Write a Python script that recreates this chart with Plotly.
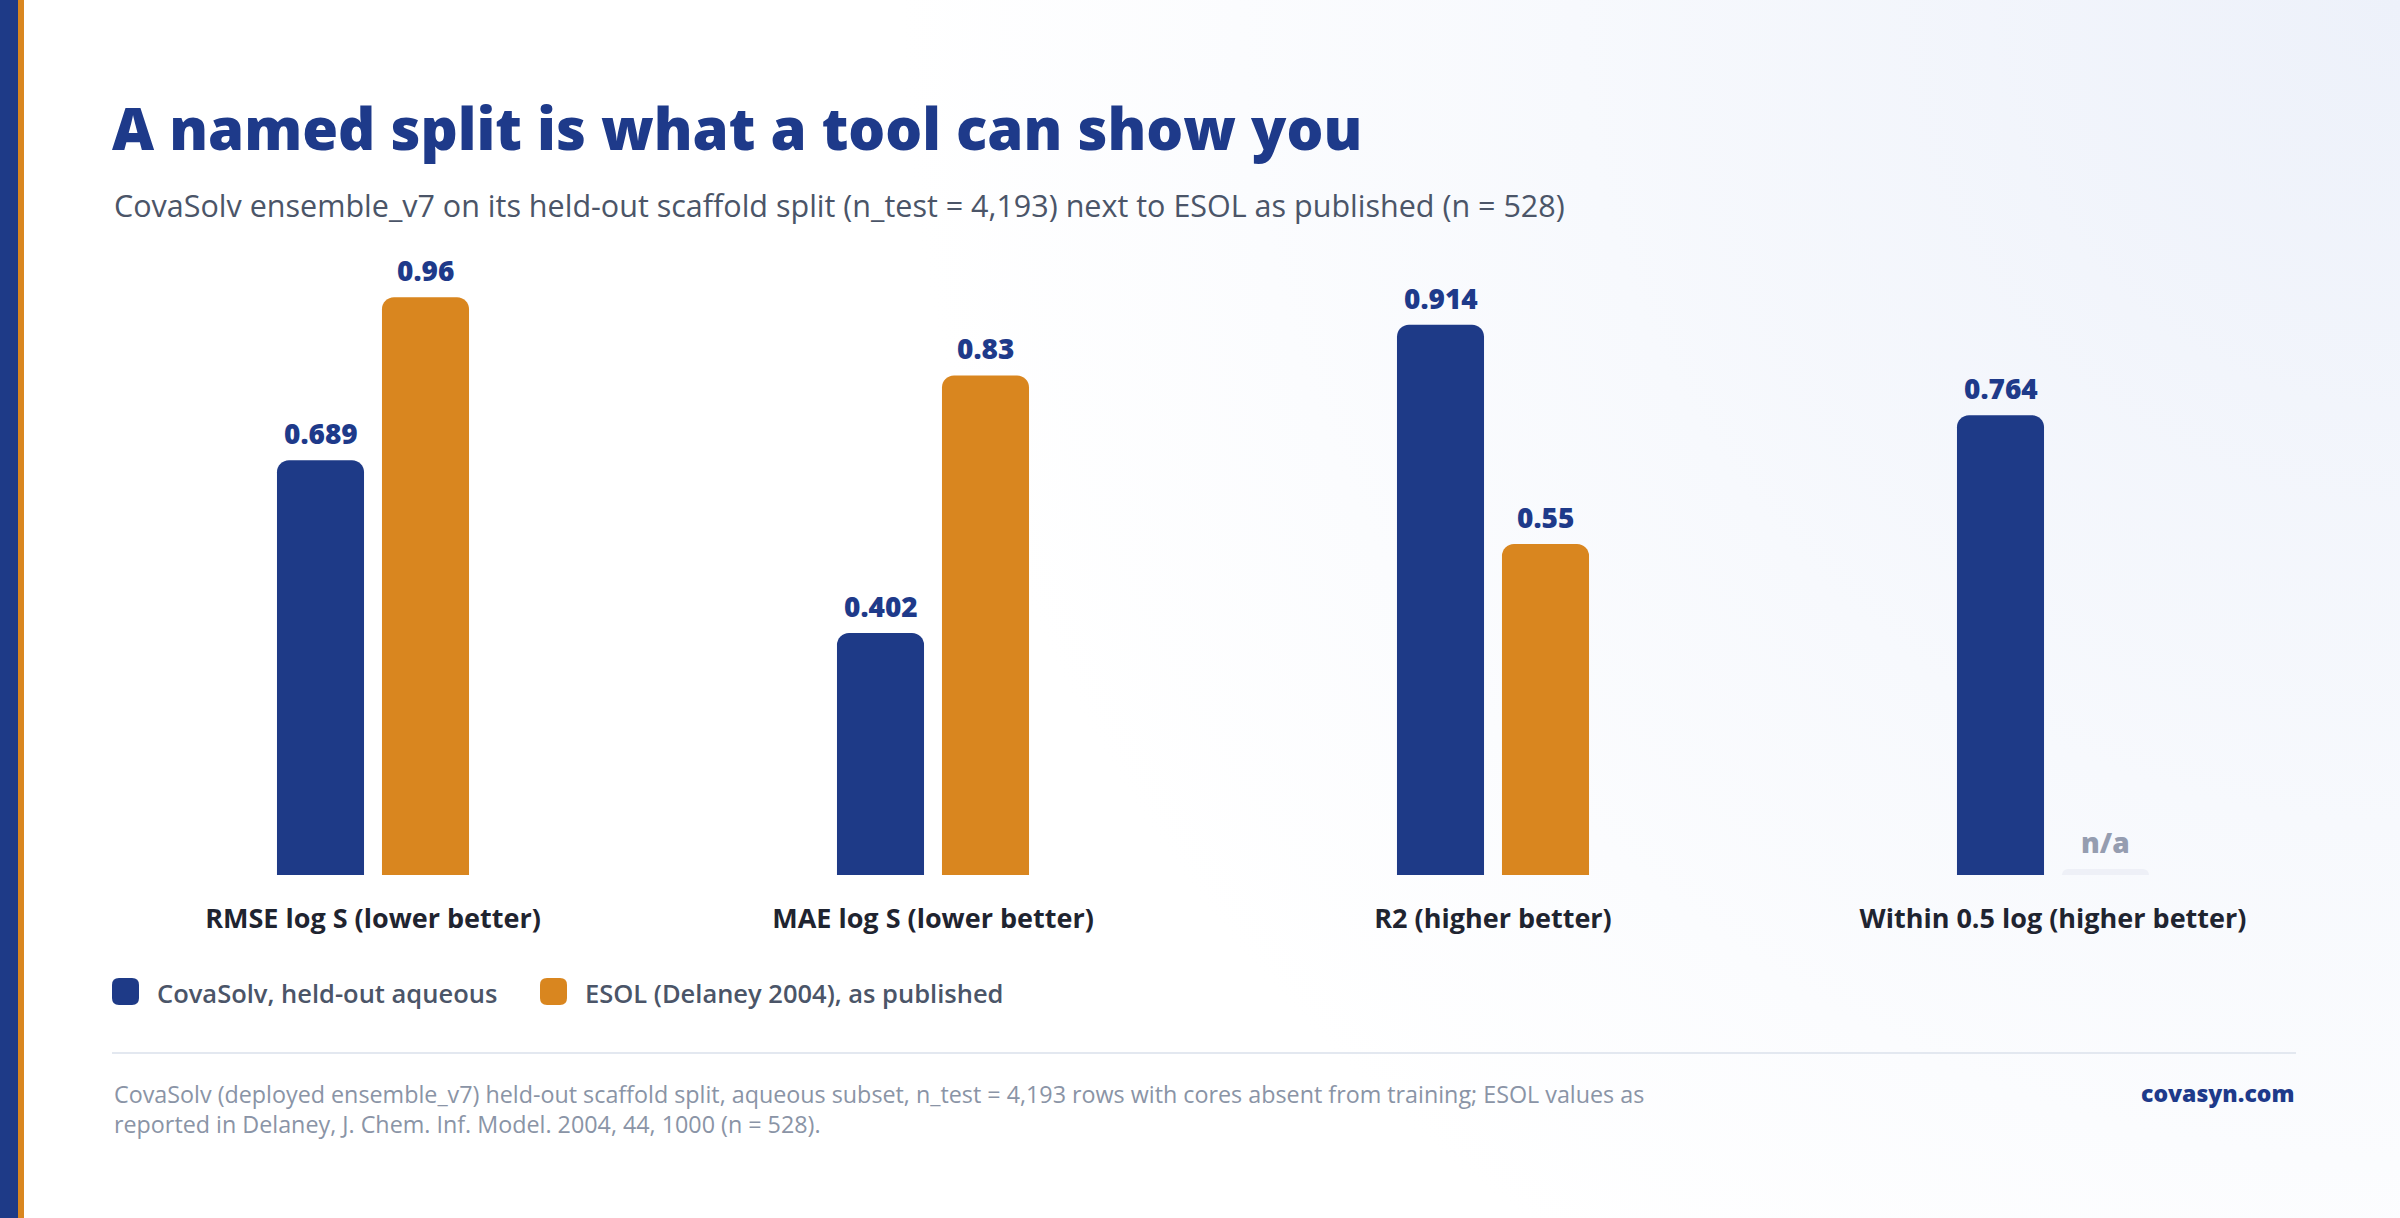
import base64
import plotly.graph_objects as go

# ---------------- data ----------------
categories = [
    "RMSE log S (lower better)",
    "MAE log S (lower better)",
    "R2 (higher better)",
    "Within 0.5 log (higher better)",
]
covasolv_values = [0.689, 0.402, 0.914, 0.764]
esol_values = [0.96, 0.83, 0.55, None]
value_labels_covasolv = ["0.689", "0.402", "0.914", "0.764"]
value_labels_esol = ["0.96", "0.83", "0.55", "n/a"]
NA_STUB = 0.01  # small placeholder bar for missing value

series_names = ["CovaSolv, held-out aqueous", "ESOL (Delaney 2004), as published"]

title_text = "A named split is what a tool can show you"
subtitle_text = ("CovaSolv ensemble_v7 on its held-out scaffold split (n_test = 4,193) "
                 "next to ESOL as published (n = 528)")
footer_text = ("CovaSolv (deployed ensemble_v7) held-out scaffold split, aqueous subset, "
               "n_test = 4,193 rows with cores absent from training; ESOL values as<br>"
               "reported in Delaney, J. Chem. Inf. Model. 2004, 44, 1000 (n = 528).")
brand_text = "covasyn.com"

# ---------------- style ----------------
W, H = 2400, 1218
BLUE = "#1E3A87"
ORANGE = "#D9861F"
NAVY = "#1E3A8A"
STUB = "#EEF0F7"
NA_TEXT = "#959DB0"
DARK = "#1F2430"
SLATE = "#4B5568"
GRAY = "#8A94A6"
FONT = "Open Sans"

X0_PX, X1_PX = 93, 2333
BARGAP = 0.625
BARGROUPGAP = 0.171


def px(x):
    return x / W


def py(y):
    return 1 - y / H


esol_plot = [v if v is not None else NA_STUB for v in esol_values]
esol_colors = [ORANGE if v is not None else STUB for v in esol_values]
esol_text_colors = [NAVY if v is not None else NA_TEXT for v in esol_values]

fig = go.Figure()
fig.add_trace(go.Bar(
    x=categories, y=covasolv_values, name=series_names[0],
    marker=dict(color=BLUE, cornerradius=12, line=dict(width=0)),
    showlegend=False, hoverinfo="skip",
))
fig.add_trace(go.Bar(
    x=categories, y=esol_plot, name=series_names[1],
    marker=dict(color=esol_colors, cornerradius=12, line=dict(width=0)),
    showlegend=False, hoverinfo="skip",
))

# value labels, anchored on the data through the axes
cat_px = (X1_PX - X0_PX) / len(categories)
slot_px = cat_px * (1 - BARGAP) / 2
annotations = []
series = [
    (covasolv_values, value_labels_covasolv, [NAVY] * 4, -0.5),
    (esol_plot, value_labels_esol, esol_text_colors, 0.5),
]
for vals, labels, colors, off in series:
    for c, v, lab, col in zip(categories, vals, labels, colors):
        annotations.append(dict(
            x=c, y=v, xref="x", yref="y", text=lab, showarrow=False,
            xanchor="center", yanchor="bottom", xshift=off * slot_px, yshift=6,
            font=dict(family=FONT, size=28, color=col, weight=800),
        ))

# background gradient (top-right tint)
svg = (
    f'<svg xmlns="http://www.w3.org/2000/svg" width="{W}" height="{H}" viewBox="0 0 {W} {H}">'
    '<defs><radialGradient id="g" cx="2400" cy="0" r="1500" gradientUnits="userSpaceOnUse">'
    '<stop offset="0" stop-color="#EDF1FA"/>'
    '<stop offset="0.55" stop-color="#F7F9FD"/>'
    '<stop offset="1" stop-color="#FFFFFF"/>'
    '</radialGradient></defs>'
    f'<rect width="{W}" height="{H}" fill="url(#g)"/></svg>'
)
img_src = "data:image/svg+xml;base64," + base64.b64encode(svg.encode()).decode()

shapes = [
    dict(type="rect", xref="paper", yref="paper", x0=0, x1=px(18), y0=0, y1=1,
         fillcolor=BLUE, line=dict(width=0), layer="above"),
    dict(type="rect", xref="paper", yref="paper", x0=px(18), x1=px(24), y0=0, y1=1,
         fillcolor=ORANGE, line=dict(width=0), layer="above"),
    dict(type="line", xref="paper", yref="paper", x0=px(112), x1=px(2296),
         y0=py(1053), y1=py(1053), line=dict(color="#E3E8F0", width=2)),
]


def rounded_rect(x0, y0, x1, y1, r, color):
    pts = (f"M {px(x0 + r)},{py(y0)} L {px(x1 - r)},{py(y0)} "
           f"Q {px(x1)},{py(y0)} {px(x1)},{py(y0 + r)} "
           f"L {px(x1)},{py(y1 - r)} Q {px(x1)},{py(y1)} {px(x1 - r)},{py(y1)} "
           f"L {px(x0 + r)},{py(y1)} Q {px(x0)},{py(y1)} {px(x0)},{py(y1 - r)} "
           f"L {px(x0)},{py(y0 + r)} Q {px(x0)},{py(y0)} {px(x0 + r)},{py(y0)} Z")
    return dict(type="path", xref="paper", yref="paper", path=pts,
                fillcolor=color, line=dict(width=0))


shapes.append(rounded_rect(112, 978, 139, 1005, 7, BLUE))
shapes.append(rounded_rect(540, 978, 567, 1005, 7, ORANGE))

annotations += [
    dict(text=title_text, x=px(110), y=py(128), xref="paper", yref="paper",
         xanchor="left", yanchor="middle", showarrow=False,
         font=dict(family=FONT, size=58, color=NAVY, weight=800)),
    dict(text=subtitle_text, x=px(112), y=py(205), xref="paper", yref="paper",
         xanchor="left", yanchor="middle", showarrow=False,
         font=dict(family=FONT, size=30.5, color=SLATE, weight=500)),
    dict(text=series_names[0], x=px(155), y=py(993), xref="paper", yref="paper",
         xanchor="left", yanchor="middle", showarrow=False,
         font=dict(family=FONT, size=25.5, color=SLATE, weight=600)),
    dict(text=series_names[1], x=px(583), y=py(993), xref="paper", yref="paper",
         xanchor="left", yanchor="middle", showarrow=False,
         font=dict(family=FONT, size=25.5, color=SLATE, weight=600)),
    dict(text=footer_text, x=px(112), y=py(1109), xref="paper", yref="paper",
         xanchor="left", yanchor="middle", align="left", showarrow=False,
         font=dict(family=FONT, size=23.3, color=GRAY)),
    dict(text=brand_text, x=px(2296), y=py(1093), xref="paper", yref="paper",
         xanchor="right", yanchor="middle", showarrow=False,
         font=dict(family=FONT, size=23, color=NAVY, weight=800)),
]

fig.update_layout(
    width=W, height=H,
    margin=dict(l=0, r=0, t=0, b=0),
    paper_bgcolor="white",
    plot_bgcolor="rgba(0,0,0,0)",
    barmode="group",
    bargap=BARGAP,
    bargroupgap=BARGROUPGAP,
    showlegend=False,
    font=dict(family=FONT),
    images=[dict(source=img_src, xref="paper", yref="paper", x=0, y=1,
                 sizex=1, sizey=1, sizing="stretch", layer="below",
                 xanchor="left", yanchor="top")],
    shapes=shapes,
    annotations=annotations,
    xaxis=dict(domain=[px(X0_PX), px(X1_PX)], showgrid=False, showline=False,
               zeroline=False, ticks="", ticklabelstandoff=25,
               tickfont=dict(family=FONT, size=27, color=DARK, weight=700),
               fixedrange=True),
    yaxis=dict(domain=[py(875), py(243)], range=[0, 1.05], visible=False,
               showgrid=False, zeroline=False, fixedrange=True),
)

fig.write_html("out.html", config={"displayModeBar": False})
